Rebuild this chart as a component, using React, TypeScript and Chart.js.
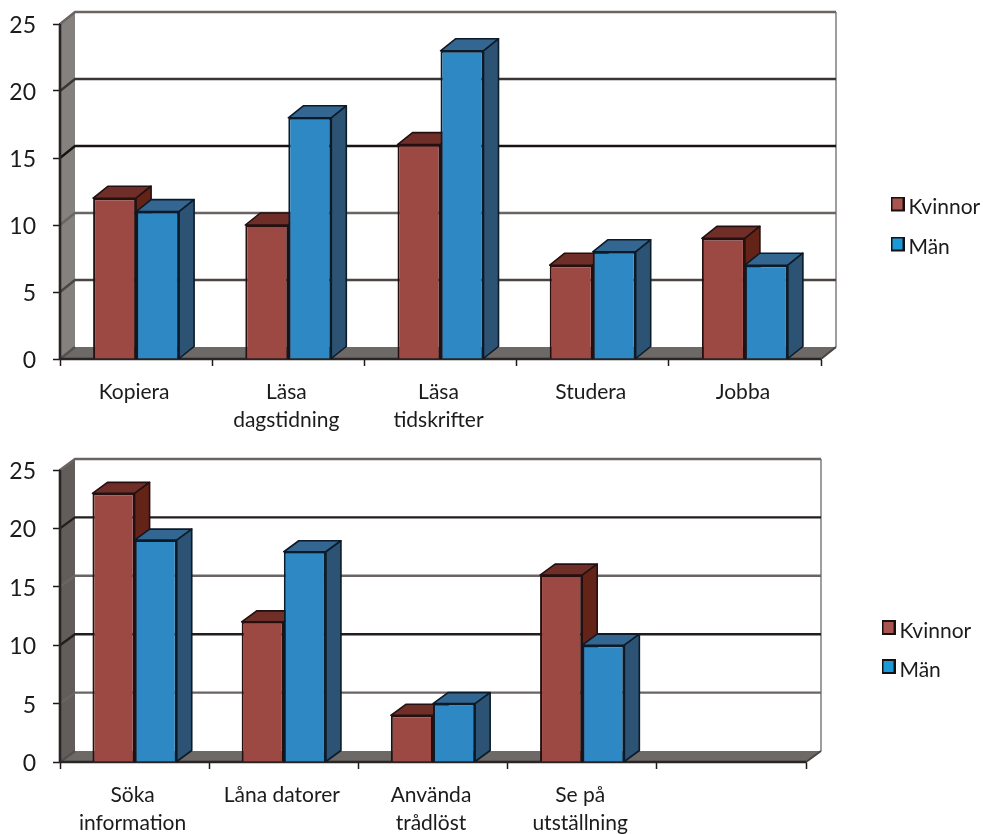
import React, { useEffect, useRef } from "react";
import { Chart, registerables } from "chart.js";

Chart.register(...registerables);

const seriesNames = ["Kvinnor", "Män"];
const topCategories = ["Kopiera", ["Läsa", "dagstidning"], ["Läsa", "tidskrifter"], "Studera", "Jobba"];
const topKvinnor = [12, 10, 16, 7, 9];
const topMan = [11, 18, 23, 8, 7];
const bottomCategories = [["Söka", "information"], "Låna datorer", ["Använda", "trådlöst"], ["Se på", "utställning"], ""];
const bottomKvinnor = [23, 12, 4, 16, null];
const bottomMan = [19, 18, 5, 10, null];

const FONT = "Lato";
const TEXT = "#1c1a1a";
const faces = [
  { front: "#9c4843", top: "#6f2f28", side: "#632316", edge: "#241010", legend: "#a9544e" },
  { front: "#2d88c4", top: "#336690", side: "#2c5373", edge: "#0d1a28", legend: "#1a9bd8" },
];

// The swatch sits in the upper part of a taller transparent image, so that it
// rides slightly above the middle of its label, as in the reference.
function legendSwatch(fill: string) {
  const c = document.createElement("canvas");
  c.width = 14;
  c.height = 22;
  const g = c.getContext("2d")!;
  g.fillStyle = fill;
  g.strokeStyle = "#161010";
  g.lineWidth = 2;
  g.fillRect(1, 1, 12, 13);
  g.strokeRect(1, 1, 12, 13);
  return c;
}

type Cfg = {
  labels: any[];
  kvinnor: (number | null)[];
  man: (number | null)[];
  canvasTop: number;
  canvasHeight: number;
  top: number;
  bottom: number;
  right: number;
  depthY: number;
  wall: string;
  gridColors: string[];
  legendX: number;
  legendY: number;
  legendGap: number;
  labelPad: number;
};

function makeChart(canvas: HTMLCanvasElement, cfg: Cfg) {
  const depthX = 15;
  const depthY = cfg.depthY;
  const plugin = {
    id: "depth",
    afterLayout(chart: any) {
      const l = chart.legend;
      l.left = cfg.legendX;
      l.right = cfg.legendX + 120;
      l.top = cfg.legendY;
      l.bottom = cfg.legendY + 120;
    },
    beforeDatasetsDraw(chart: any) {
      const { ctx, chartArea: a, scales } = chart;
      const y = scales.y;
      ctx.save();
      // floor
      ctx.fillStyle = "#6d6967";
      ctx.beginPath();
      ctx.moveTo(a.left, a.bottom);
      ctx.lineTo(a.right, a.bottom);
      ctx.lineTo(a.right + depthX, a.bottom - depthY);
      ctx.lineTo(a.left + depthX, a.bottom - depthY);
      ctx.closePath();
      ctx.fill();
      // left wall
      ctx.fillStyle = cfg.wall;
      ctx.beginPath();
      ctx.moveTo(a.left, a.top);
      ctx.lineTo(a.left + depthX, a.top - depthY);
      ctx.lineTo(a.left + depthX, a.bottom - depthY);
      ctx.lineTo(a.left, a.bottom);
      ctx.closePath();
      ctx.fill();
      // right edge of the back wall and of the floor
      ctx.strokeStyle = "#a19d9b";
      ctx.lineWidth = 2;
      ctx.beginPath();
      ctx.moveTo(a.right + depthX, a.top - depthY);
      ctx.lineTo(a.right + depthX, a.bottom - depthY);
      ctx.stroke();
      ctx.strokeStyle = "#4a4442";
      ctx.beginPath();
      ctx.moveTo(a.right + depthX, a.bottom - depthY);
      ctx.lineTo(a.right, a.bottom);
      ctx.stroke();
      // gridlines on the back wall, with their diagonal on the side wall
      y.ticks.forEach((t: any, i: number) => {
        const py = y.getPixelForValue(t.value);
        ctx.strokeStyle = cfg.gridColors[i] ?? "#333";
        ctx.lineWidth = 2.4;
        ctx.beginPath();
        ctx.moveTo(a.left, py);
        ctx.lineTo(a.left + depthX, py - depthY);
        if (i > 0) ctx.lineTo(a.right + depthX, py - depthY);
        ctx.stroke();
      });
      // base line and front edge of the side wall
      ctx.strokeStyle = "#2a2424";
      ctx.lineWidth = 2.6;
      ctx.beginPath();
      ctx.moveTo(a.left, a.top);
      ctx.lineTo(a.left, a.bottom);
      ctx.lineTo(a.right, a.bottom);
      ctx.stroke();

      // side and top faces of the bars; fronts are drawn by the bar controller
      [0, 1].forEach((d) => {
        const f = faces[d];
        const values = chart.data.datasets[d].data;
        ctx.lineWidth = 1.6;
        ctx.strokeStyle = f.edge;
        ctx.lineJoin = "round";
        chart.getDatasetMeta(d).data.forEach((bar: any, j: number) => {
          if (values[j] == null) return;
          const { x, y: top, base, width } = bar.getProps(["x", "y", "base", "width"], true);
          const l = x - width / 2;
          const r = x + width / 2;
          ctx.fillStyle = f.top;
          ctx.beginPath();
          ctx.moveTo(l, top);
          ctx.lineTo(l + depthX, top - depthY);
          ctx.lineTo(r + depthX, top - depthY);
          ctx.lineTo(r, top);
          ctx.closePath();
          ctx.fill();
          ctx.stroke();
          ctx.fillStyle = f.side;
          ctx.beginPath();
          ctx.moveTo(r, top);
          ctx.lineTo(r + depthX, top - depthY);
          ctx.lineTo(r + depthX, base - depthY);
          ctx.lineTo(r, base);
          ctx.closePath();
          ctx.fill();
          ctx.stroke();
        });
      });
      ctx.restore();
    },
  };

  return new Chart(canvas, {
    type: "bar",
    data: {
      labels: cfg.labels,
      datasets: [
        { label: seriesNames[0], data: cfg.kvinnor, backgroundColor: faces[0].front, borderColor: faces[0].edge, borderWidth: 2, clip: false },
        { label: seriesNames[1], data: cfg.man, backgroundColor: faces[1].front, borderColor: faces[1].edge, borderWidth: 2, clip: false },
      ] as any,
    },
    plugins: [plugin],
    options: {
      responsive: false,
      animation: false,
      layout: { padding: { left: 0, top: cfg.top, right: cfg.right, bottom: 0 } },
      datasets: { bar: { barPercentage: 1, categoryPercentage: 0.565 } },
      plugins: {
        title: { display: false },
        tooltip: { enabled: false },
        legend: {
          display: true,
          position: "chartArea",
          align: "start",
          labels: {
            usePointStyle: true,
            pointStyleWidth: 1,
            padding: cfg.legendGap,
            color: TEXT,
            font: { family: FONT, size: 21 },
            generateLabels: () =>
              seriesNames.map((text, i) => ({
                text,
                datasetIndex: i,
                fillStyle: faces[i].legend,
                strokeStyle: "#161010",
                lineWidth: 2,
                pointStyle: legendSwatch(faces[i].legend),
                fontColor: TEXT,
              })),
          },
        },
      },
      scales: {
        x: {
          type: "category",
          offset: true,
          afterFit: (s: any) => {
            s.height = cfg.bottom;
          },
          grid: { offset: true, drawOnChartArea: false, drawTicks: true, tickLength: 7, tickColor: "#1a1a1a", tickWidth: 1.5 },
          border: { display: true, color: "#1e1a1a", width: 2 },
          ticks: { color: TEXT, font: { family: FONT, size: 21, lineHeight: 1.3 }, padding: cfg.labelPad, maxRotation: 0, autoSkip: false, labelOffset: -2 },
        },
        y: {
          min: 0,
          max: 25,
          afterFit: (s: any) => {
            s.width = 60;
          },
          grid: { drawOnChartArea: false, drawTicks: true, tickLength: 7, tickColor: "#1a1a1a", tickWidth: 1.5 },
          border: { display: true, color: "#1e1a1a", width: 2 },
          ticks: { stepSize: 5, color: TEXT, font: { family: FONT, size: 23 }, padding: 17, labelOffset: 1.5 },
        },
      },
    } as any,
  });
}

const topConfig: Cfg = {
  labels: topCategories,
  kvinnor: topKvinnor,
  man: topMan,
  canvasTop: -30,
  canvasHeight: 470,
  top: 54,
  bottom: 81,
  right: 162,
  depthY: 12,
  wall: "#85817f",
  gridColors: ["#55504e", "#4a4442", "#6a6462", "#181313", "#3a3432", "#6a6462"],
  legendX: 878,
  legendY: 208,
  legendGap: 19,
  labelPad: 13,
};

const bottomConfig: Cfg = {
  labels: bottomCategories,
  kvinnor: bottomKvinnor,
  man: bottomMan,
  canvasTop: 410,
  canvasHeight: 424,
  top: 60,
  bottom: 72,
  right: 177,
  depthY: 11,
  wall: "#625d5a",
  gridColors: ["#55504e", "#6a6462", "#231e1c", "#6a6462", "#231e1c", "#6a6462"],
  legendX: 870,
  legendY: 192.5,
  legendGap: 18,
  labelPad: 13,
};

function Panel({ cfg }: { cfg: Cfg }) {
  const ref = useRef<HTMLCanvasElement>(null);
  useEffect(() => {
    const chart = makeChart(ref.current!, cfg);
    return () => chart.destroy();
  }, [cfg]);
  return (
    <canvas
      ref={ref}
      width={983}
      height={cfg.canvasHeight}
      style={{ position: "absolute", left: 0, top: cfg.canvasTop, display: "block", filter: "blur(0.4px)" }}
    />
  );
}

export default function App() {
  return (
    <div style={{ position: "absolute", left: 0, top: 0, width: 983, height: 834, background: "#fff", overflow: "hidden" }}>
      <Panel cfg={topConfig} />
      <Panel cfg={bottomConfig} />
    </div>
  );
}
